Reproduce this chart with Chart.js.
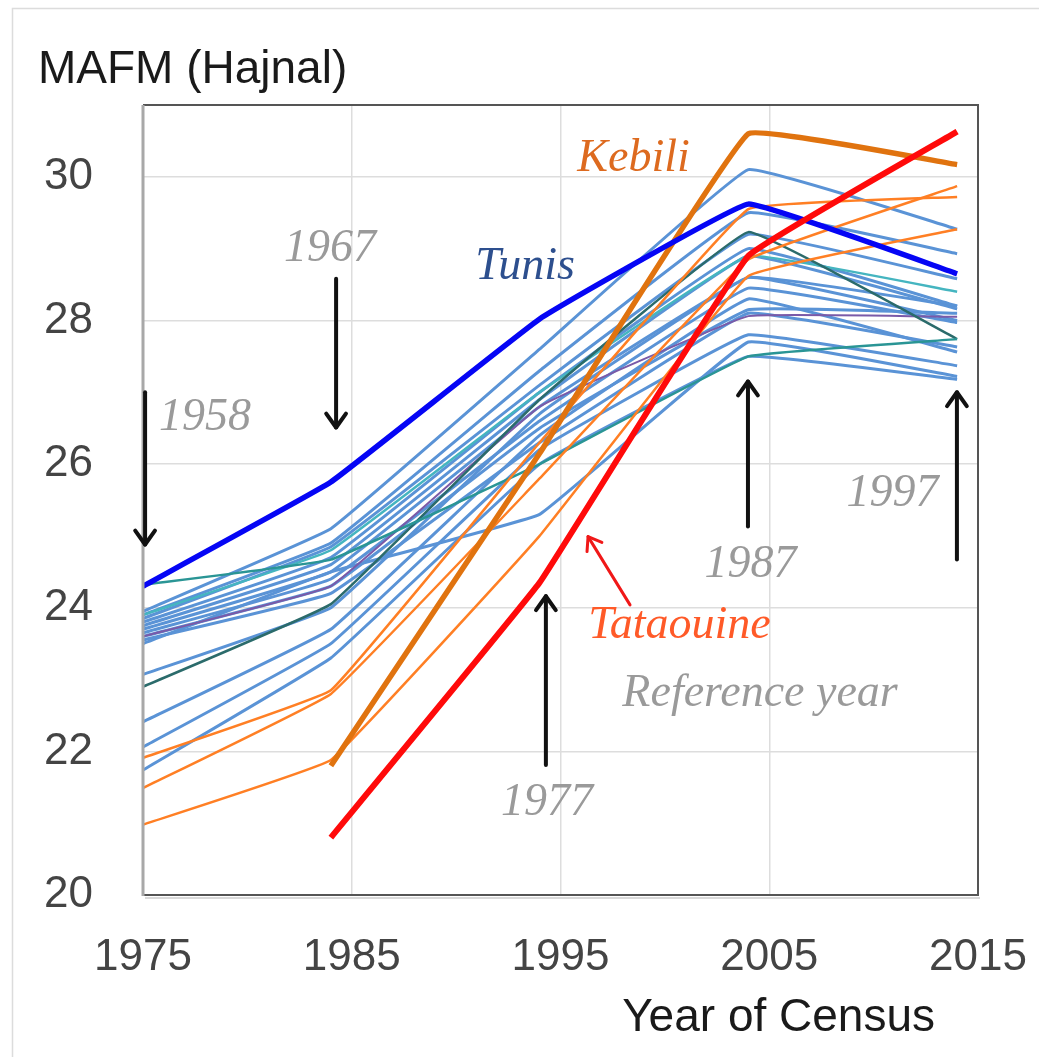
<!DOCTYPE html>
<html>
<head>
<meta charset="utf-8">
<script src="https://cdn.jsdelivr.net/npm/chart.js@4.4.1/dist/chart.umd.min.js"></script>
<style>
  html, body { margin: 0; padding: 0; background: #fff; }
  #wrap { width: 1039px; height: 1057px; position: relative; }
</style>
</head>
<body>
<div id="wrap"><canvas id="c" width="1039" height="1057"></canvas></div>
<script>
// Census years (x values)
const years = [1975, 1984, 1994, 2004, 2014];
const yTicks = [20, 22, 24, 26, 28, 30];
const xTicks = [1975, 1985, 1995, 2005, 2015];

// Highlighted governorates
const tunis     = [24.3, 25.75, 28.02, 29.62, 28.65];
const kebili    = [null, 21.8, 26.15, 30.6, 30.17];
const tataouine = [null, 20.8, 24.35, 28.9, 30.63];

// Other southern governorates (orange)
const orange1 = [21.91, 22.85, 26.3, 29.55, 29.72];
const orange2 = [21.49, 22.8, 25.8, 28.85, 29.87];
const orange3 = [20.98, 21.88, 25.0, 28.62, 29.27];

// Teal / purple governorates
const teal      = [24.32, 24.67, 26.0, 27.5, 27.74];
const darkTeal  = [22.9, 24.05, 26.9, 29.23, 27.74];
const lightTeal = [23.9, 24.8, 27.0, 28.9, 28.4];
const purple    = [23.6, 24.3, 26.8, 28.06, 28.05];

// Remaining governorates (light blue)
const blue1  = [23.95, 25.1, 27.6, 30.1, 29.27];
const blue2  = [23.9, 24.9, 27.3, 29.5, 28.93];
const blue3  = [23.85, 24.85, 27.1, 29.2, 28.58];
const blue4  = [23.8, 24.7, 27.0, 29.0, 28.2];
const blue5  = [23.75, 24.6, 26.9, 28.9, 28.16];
const blue6  = [23.7, 24.5, 26.8, 28.6, 28.0];
const blue7  = [23.65, 24.4, 26.6, 28.45, 27.97];
const blue8  = [23.6, 24.3, 26.5, 28.15, 28.1];
const blue9  = [23.55, 24.2, 26.3, 28.1, 27.63];
const blue10 = [23.5, 24.5, 25.3, 27.7, 27.22];
const blue11 = [23.07, 24.0, 26.7, 28.6, 28.2];
const blue12 = [22.41, 23.7, 26.4, 28.3, 27.56];
const blue13 = [22.06, 23.5, 26.2, 27.8, 27.37];
const blue14 = [21.74, 23.3, 26.0, 27.5, 27.18];

// Annotations (data coordinates)
const arrows = [
  { x: 1975.1,  y1: 27.0,  y2: 24.88, color: '#111' },
  { x: 1984.25, y1: 28.58, y2: 26.51, color: '#111' },
  { x: 1994.3,  y1: 21.81, y2: 24.16, color: '#111' },
  { x: 2003.98, y1: 25.13, y2: 27.15, color: '#111' },
  { x: 2013.99, y1: 24.67, y2: 27.0,  color: '#111' }
];
const labels = [
  { text: '1958', x: 1977.97, y: 26.65, color: '#9a9a9a' },
  { text: '1967', x: 1983.96, y: 29.0,  color: '#9a9a9a' },
  { text: '1977', x: 1994.35, y: 21.28, color: '#9a9a9a' },
  { text: '1987', x: 2004.1,  y: 24.6,  color: '#9a9a9a' },
  { text: '1997', x: 2010.9,  y: 25.59, color: '#9a9a9a' },
  { text: 'Tunis', x: 1993.3, y: 28.74, color: '#2d4f8e' },
  { text: 'Kebili', x: 1998.5, y: 30.25, color: '#dd6a1f' },
  { text: 'Tataouine', x: 2000.7, y: 23.74, color: '#ff5a28' },
  { text: 'Reference year', x: 2004.56, y: 22.8, color: '#9a9a9a' }
];
const redArrow = { x1: 1998.33, y1: 24.04, x2: 1996.32, y2: 24.99 };

function toPts(arr) { return years.map((yr, i) => ({ x: yr, y: arr[i] })).filter(p => p.y !== null); }
function ds(label, arr, color, width) {
  return { label, data: toPts(arr), borderColor: color, backgroundColor: color, borderWidth: width,
           pointRadius: 0, tension: 0.07, fill: false };
}

const BLUE = '#5a93d6';
const datasets = [
  ds('Tataouine', tataouine, '#ff0a0a', 6),
  ds('Tunis', tunis, '#0505f5', 5.5),
  ds('Kebili', kebili, '#e0730f', 5.5),
  ds('Orange 1', orange1, '#ff7f24', 2.5),
  ds('Orange 2', orange2, '#ff7f24', 2.5),
  ds('Orange 3', orange3, '#ff7f24', 2.5),
  ds('Teal', teal, '#2a9595', 2.5),
  ds('Dark teal', darkTeal, '#2b6b6b', 2.5),
  ds('Light teal', lightTeal, '#45b5c0', 2.5),
  ds('Purple', purple, '#7a5aa8', 2),
  ds('B1', blue1, BLUE, 3), ds('B2', blue2, BLUE, 3), ds('B3', blue3, BLUE, 3),
  ds('B4', blue4, BLUE, 3), ds('B5', blue5, BLUE, 3), ds('B6', blue6, BLUE, 3),
  ds('B7', blue7, BLUE, 3), ds('B8', blue8, BLUE, 3), ds('B9', blue9, BLUE, 3),
  ds('B10', blue10, BLUE, 3), ds('B11', blue11, BLUE, 3), ds('B12', blue12, BLUE, 3),
  ds('B13', blue13, BLUE, 3), ds('B14', blue14, BLUE, 3)
];

const SERIF_IT = 'italic 46px "Liberation Serif", "DejaVu Serif", serif';
const SANS = '"Liberation Sans", Arial, sans-serif';

const overlay = {
  id: 'overlay',
  beforeDraw(chart) {
    const ctx = chart.ctx;
    ctx.save();
    ctx.strokeStyle = '#dcdcdc';
    ctx.lineWidth = 1.5;
    ctx.beginPath();
    ctx.moveTo(12.5, 1057); ctx.lineTo(12.5, 8.5); ctx.lineTo(1039, 8.5);
    ctx.stroke();
    ctx.restore();
  },
  afterDraw(chart) {
    const ctx = chart.ctx;
    const xs = chart.scales.x, ys = chart.scales.y;
    const a = chart.chartArea;
    ctx.save();
    // frame
    ctx.lineWidth = 2;
    ctx.strokeStyle = '#555';
    ctx.beginPath();
    ctx.moveTo(a.left, a.top); ctx.lineTo(a.right, a.top); ctx.lineTo(a.right, a.bottom); ctx.lineTo(a.left, a.bottom);
    ctx.stroke();
    ctx.strokeStyle = '#a8a8a8';
    ctx.lineWidth = 3;
    ctx.beginPath(); ctx.moveTo(a.left, a.top); ctx.lineTo(a.left, a.bottom + 1); ctx.stroke();
    ctx.strokeStyle = 'rgba(0,0,0,0.15)';
    ctx.lineWidth = 2;
    ctx.beginPath(); ctx.moveTo(a.left + 2, a.bottom + 3); ctx.lineTo(a.right + 2, a.bottom + 3); ctx.stroke();

    // annotation labels
    ctx.textAlign = 'center';
    ctx.textBaseline = 'middle';
    ctx.font = SERIF_IT;
    labels.forEach(l => {
      ctx.fillStyle = l.color;
      ctx.fillText(l.text, xs.getPixelForValue(l.x), ys.getPixelForValue(l.y));
    });

    // arrows
    function arrow(x1, y1, x2, y2, color, w, head) {
      ctx.strokeStyle = color; ctx.lineWidth = w; ctx.lineCap = 'round'; ctx.lineJoin = 'round';
      ctx.beginPath(); ctx.moveTo(x1, y1); ctx.lineTo(x2, y2); ctx.stroke();
      const ang = Math.atan2(y2 - y1, x2 - x1);
      const hl = head, spread = 0.62;
      ctx.beginPath();
      ctx.moveTo(x2 - hl * Math.cos(ang - spread), y2 - hl * Math.sin(ang - spread));
      ctx.lineTo(x2, y2);
      ctx.lineTo(x2 - hl * Math.cos(ang + spread), y2 - hl * Math.sin(ang + spread));
      ctx.stroke();
    }
    arrows.forEach(ar => {
      const px = xs.getPixelForValue(ar.x);
      arrow(px, ys.getPixelForValue(ar.y1), px, ys.getPixelForValue(ar.y2), ar.color, 4, 17);
    });
    arrow(xs.getPixelForValue(redArrow.x1), ys.getPixelForValue(redArrow.y1),
          xs.getPixelForValue(redArrow.x2), ys.getPixelForValue(redArrow.y2), '#f01818', 3, 15);

    // titles
    ctx.fillStyle = '#1a1a1a';
    ctx.font = '46px ' + SANS;
    ctx.textAlign = 'left';
    ctx.textBaseline = 'alphabetic';
    ctx.fillText('MAFM (Hajnal)', 38, 83);
    ctx.textAlign = 'right';
    ctx.fillText('Year of Census', 935, 1031);
    ctx.restore();
  }
};

new Chart(document.getElementById('c'), {
  type: 'line',
  data: { datasets },
  options: {
    responsive: false,
    animation: false,
    devicePixelRatio: 1,
    layout: { padding: { left: 0, right: 61, top: 105, bottom: 0 } },
    plugins: { legend: { display: false }, tooltip: { enabled: false }, title: { display: false } },
    scales: {
      x: {
        type: 'linear', min: 1975, max: 2015,
        afterBuildTicks: s => { s.ticks = xTicks.map(v => ({ value: v })); },
        afterFit: s => { s.height = 162; s.paddingLeft = 0; s.paddingRight = 0; },
        ticks: { color: '#444', font: { family: SANS, size: 44 }, padding: 36, maxRotation: 0,
                 callback: v => String(v) },
        grid: { color: '#dddddd', lineWidth: 1.5, drawTicks: false },
        border: { display: false }
      },
      y: {
        type: 'linear', min: 20, max: 31,
        afterBuildTicks: s => { s.ticks = yTicks.map(v => ({ value: v })); },
        afterFit: s => { s.width = 143; s.paddingTop = 0; s.paddingBottom = 0; },
        ticks: { color: '#444', font: { family: SANS, size: 44 }, padding: 50 },
        grid: { color: '#dddddd', lineWidth: 1.5, drawTicks: false },
        border: { display: false }
      }
    }
  },
  plugins: [overlay]
});
</script>
</body>
</html>
